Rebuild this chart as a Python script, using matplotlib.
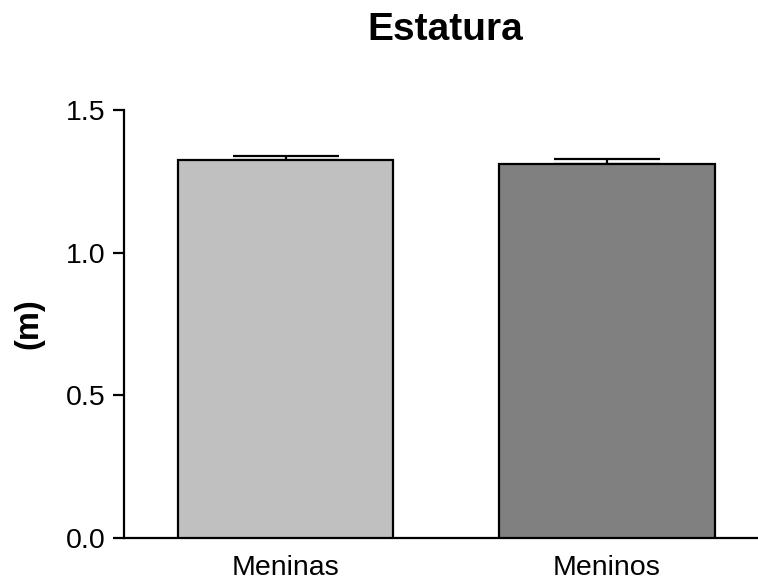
import matplotlib.pyplot as plt

plt.rcParams['font.family'] = ['Liberation Sans', 'DejaVu Sans']

# mean height (m) and upper error per group
groups = ['Meninas', 'Meninos']
means = [1.325, 1.312]
errors = [0.015, 0.017]
colors = ['#c0c0c0', '#808080']
yticks = [0.0, 0.5, 1.0, 1.5]
ytick_labels = ['0.0', '0.5', '1.0', '1.5']

fig = plt.figure(figsize=(7.58, 5.82), dpi=100)
ax = fig.add_axes([124 / 758, 44 / 582, 634 / 758, 428 / 582])

x = range(len(groups))
ax.errorbar(x, means, yerr=[[0] * len(errors), errors], fmt='none',
            ecolor='black', elinewidth=1.6, capsize=38.5, capthick=1.6, zorder=2)
ax.bar(x, means, width=0.67, color=colors, edgecolor='black', linewidth=1.6, zorder=3)

ax.set_xlim(-0.503, 1.47)
ax.set_ylim(0, 1.5)
ax.set_yticks(yticks)
ax.set_yticklabels(ytick_labels)
ax.set_xticks(list(x))
ax.set_xticklabels(groups)

for side in ['top', 'right']:
    ax.spines[side].set_visible(False)
for side in ['left', 'bottom']:
    ax.spines[side].set_linewidth(1.6)

ax.tick_params(axis='y', direction='out', length=8, width=1.6, pad=5, labelsize=20.5)
ax.tick_params(axis='x', length=0, pad=12, labelsize=20.5)

ax.set_ylabel('(m)', fontsize=23.5, fontweight='bold', labelpad=16)
fig.text(445 / 758, 1 - 30 / 582, 'Estatura', fontsize=28, fontweight='bold',
         ha='center', va='center')

fig.savefig('out.png', dpi=100)
